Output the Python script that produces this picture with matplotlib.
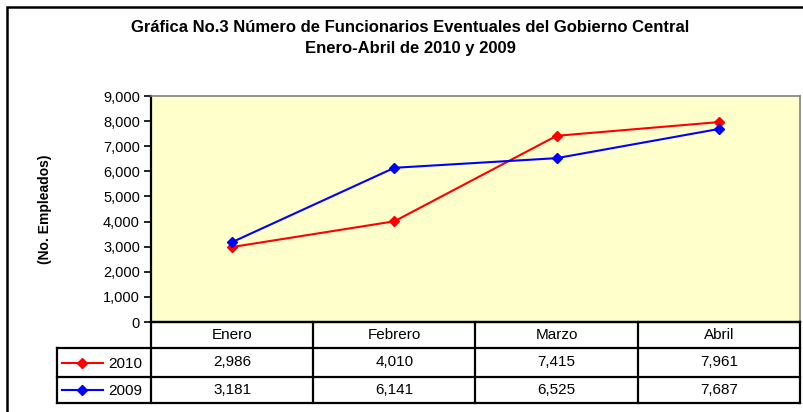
import matplotlib
matplotlib.use("Agg")
import matplotlib.pyplot as plt
from matplotlib.lines import Line2D
from matplotlib.patches import Rectangle

plt.rcParams["font.family"] = ["Liberation Sans", "DejaVu Sans"]

# data
months = ["Enero", "Febrero", "Marzo", "Abril"]
series_names = ["2010", "2009"]
vals_2010 = [2986, 4010, 7415, 7961]
vals_2009 = [3181, 6141, 6525, 7687]
colors = ["#FF0000", "#0000FF"]
yticks = list(range(0, 9001, 1000))

W, H = 804, 412
fig = plt.figure(figsize=(W / 100, H / 100), dpi=100)


def px_box(x0, y0, x1, y1):
    # pixel box (top-left origin) -> figure fraction [l, b, w, h]
    return [x0 / W, 1 - y1 / H, (x1 - x0) / W, (y1 - y0) / H]


# outer chart frame (runs past the right/bottom edge, as in the source)
fig.patches.append(Rectangle((7 / W, -0.05), 1.05, 1 - 7 / H + 0.05,
                             transform=fig.transFigure, fill=False,
                             edgecolor="black", linewidth=1.8))

fig.text(410 / W, 1 - 28 / H, "Gráfica No.3 Número de Funcionarios Eventuales del Gobierno Central",
         ha="center", va="center", fontsize=12, fontweight="bold")
fig.text(410 / W, 1 - 48 / H, "Enero-Abril de 2010 y 2009",
         ha="center", va="center", fontsize=12, fontweight="bold")

# main plot
px_left, px_right, px_top, px_zero = 151, 800, 96, 322
ax = fig.add_axes(px_box(px_left, px_top, px_right, px_zero))
ax.set_facecolor("#FFFFCC")
x = list(range(len(months)))
for vals, c in zip([vals_2010, vals_2009], colors):
    ax.plot(x, vals, color=c, linewidth=1.5, marker="D", markersize=5.5,
            markeredgecolor=c, markerfacecolor=c)
ax.set_xlim(-0.5, len(months) - 0.5)
ax.set_ylim(0, 9000)
ax.set_yticks(yticks)
ax.set_yticklabels([f"{v:,}" for v in yticks], fontsize=10.5)
ax.set_xticks([])
ax.tick_params(axis="y", direction="out", length=5, width=1.2, pad=3)
ax.spines["left"].set_linewidth(1.6)
ax.spines["bottom"].set_linewidth(1.6)
ax.spines["top"].set_color("#808080")
ax.spines["right"].set_color("#808080")
ax.spines["top"].set_linewidth(1.2)
ax.spines["right"].set_linewidth(1.2)
fig.text(45 / W, 1 - 209 / H, "(No. Empleados)", rotation=90, ha="center", va="center",
         fontsize=10, fontweight="bold")

# data table under the plot
cat_w = (px_right - px_left) / len(months)
leg_left = 57
leg_units = (px_left - leg_left) / cat_w
rows_px = [322, 348, 377, 403]
tx = fig.add_axes(px_box(leg_left, rows_px[0], px_right, rows_px[-1]))
tx.set_xlim(-0.5 - leg_units, len(months) - 0.5)
tx.set_ylim(rows_px[-1], rows_px[0])
tx.axis("off")
lw = 1.6
kw = dict(color="black", linewidth=lw, solid_capstyle="projecting", clip_on=False)
# horizontal lines
tx.plot([-0.5, len(months) - 0.5], [rows_px[0]] * 2, **kw)
for yb in rows_px[1:]:
    tx.plot([-0.5 - leg_units, len(months) - 0.5], [yb] * 2, **kw)
# vertical lines
for i in range(len(months) + 1):
    tx.plot([i - 0.5] * 2, [rows_px[0], rows_px[-1]], **kw)
tx.plot([-0.5 - leg_units] * 2, [rows_px[1], rows_px[-1]], **kw)

for i, m in enumerate(months):
    tx.text(i, (rows_px[0] + rows_px[1]) / 2, m, ha="center", va="center", fontsize=11)
for r, (name, vals, c) in enumerate(zip(series_names, [vals_2010, vals_2009], colors)):
    yc = (rows_px[r + 1] + rows_px[r + 2]) / 2
    for i, v in enumerate(vals):
        tx.text(i, yc, f"{v:,}", ha="center", va="center", fontsize=11)
    x0 = -0.5 - leg_units + 5 / cat_w
    x1 = -0.5 - leg_units + 46 / cat_w
    tx.add_line(Line2D([x0, x1], [yc, yc], color=c, linewidth=1.5))
    tx.add_line(Line2D([(x0 + x1) / 2], [yc], color=c, marker="D", markersize=5.5,
                       markeredgecolor=c, markerfacecolor=c))
    tx.text(-0.5 - 9 / cat_w, yc + 1, name, ha="right", va="center", fontsize=11)

fig.savefig("out.png", dpi=100)
